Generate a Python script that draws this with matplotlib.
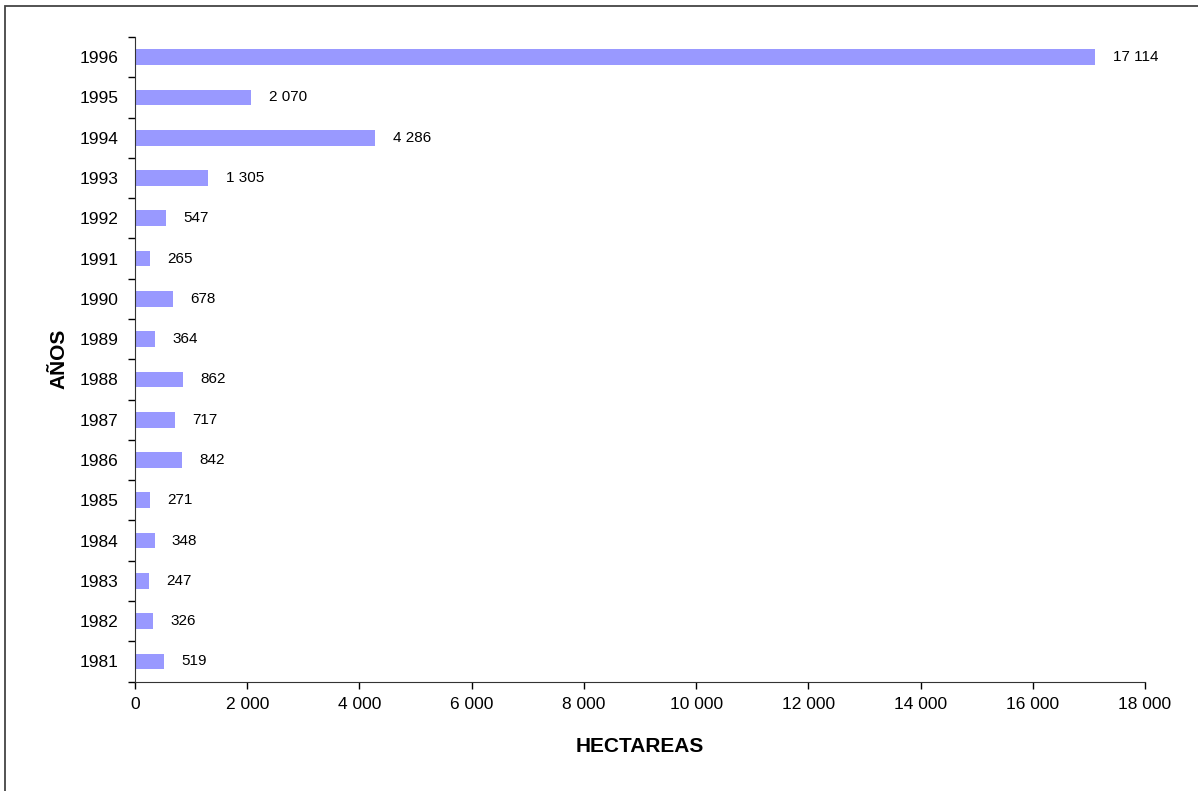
import matplotlib.pyplot as plt
from matplotlib.patches import Rectangle
from matplotlib.ticker import FuncFormatter, FixedLocator

# Data
years = ['1981', '1982', '1983', '1984', '1985', '1986', '1987', '1988',
         '1989', '1990', '1991', '1992', '1993', '1994', '1995', '1996']
hectares = [519, 326, 247, 348, 271, 842, 717, 862,
            364, 678, 265, 547, 1305, 4286, 2070, 17114]
x_ticks = [0, 2000, 4000, 6000, 8000, 10000, 12000, 14000, 16000, 18000]


def fmt(v):
    return f"{int(v):,}".replace(",", " ")


plt.rcParams['font.family'] = ['Liberation Sans', 'DejaVu Sans']

fig = plt.figure(figsize=(11.98, 7.91), dpi=100)
ax = fig.add_axes([135 / 1198, 1 - 681.5 / 791, (1145 - 135) / 1198, (681.5 - 37) / 791])

# Frame around the chart area (clipped at right and bottom like the source)
fig.patches.append(Rectangle((5 / 1198, -0.1), 1.2, 1 - 6 / 791 + 0.1,
                             transform=fig.transFigure, fill=False,
                             edgecolor='#444444', linewidth=1.3))

pos = list(range(len(years)))
ax.barh(pos, hectares, height=0.39, color='#9999FF', edgecolor='none')

for p, v in zip(pos, hectares):
    ax.annotate(fmt(v), (v, p), xytext=(12.5, 0), textcoords='offset points',
                ha='left', va='center', fontsize=11)

ax.set_xlim(0, 18000)
ax.set_ylim(-0.5, len(years) - 0.5)
ax.xaxis.set_major_locator(FixedLocator(x_ticks))
ax.xaxis.set_major_formatter(FuncFormatter(lambda v, _: fmt(v)))

# Year labels centered on bars, tick marks between categories
ax.set_yticks([p - 0.5 for p in pos] + [len(years) - 0.5])
ax.set_yticklabels([])
ax.set_yticks(pos, minor=True)
ax.set_yticklabels(years, minor=True, fontsize=12.5)
ax.tick_params(axis='y', which='minor', length=0, pad=12)
ax.tick_params(axis='y', which='major', length=5, direction='out', width=1)
ax.tick_params(axis='x', length=5, direction='out', width=1, labelsize=12.5, pad=6)

for s in ['top', 'right']:
    ax.spines[s].set_visible(False)
for s in ['left', 'bottom']:
    ax.spines[s].set_color('#333333')

ax.set_xlabel('HECTAREAS', fontsize=15, fontweight='bold', labelpad=18)
ax.set_ylabel('AÑOS', fontsize=15, fontweight='bold', labelpad=8)

fig.savefig('out.png', dpi=100)
